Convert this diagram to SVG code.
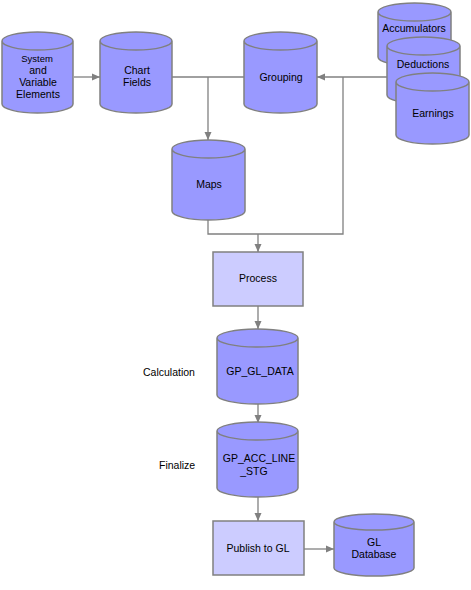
<svg xmlns="http://www.w3.org/2000/svg" width="471" height="590" viewBox="0 0 471 590">
<defs>
<marker id="ah" viewBox="0 0 8 8" refX="8" refY="4" markerWidth="8" markerHeight="8" markerUnits="userSpaceOnUse" orient="auto">
<path d="M0,0.5 L8,4 L0,7.5 Z" fill="#808080"/>
</marker>
<style>
.cyl{fill:#9999ff;stroke:#808080;stroke-width:1.5}
.box{fill:#ccccff;stroke:#808080;stroke-width:1.5}
.ln{fill:none;stroke:#808080;stroke-width:1.3}
text{font-family:"Liberation Sans",Arial,sans-serif;font-size:10.5px;fill:#000;text-anchor:middle}
.lbl{text-anchor:start}
</style>
</defs>
<rect width="471" height="590" fill="#fff"/>
<g id="connectors">
<line class="ln" x1="74" y1="77" x2="100" y2="77" marker-end="url(#ah)"/>
<line class="ln" x1="172" y1="77" x2="244" y2="77"/>
<line class="ln" x1="208" y1="77" x2="208" y2="140" marker-end="url(#ah)"/>
<line class="ln" x1="387" y1="77" x2="317" y2="77" marker-end="url(#ah)"/>
<polyline class="ln" points="343,77 343,234 208,234 208,220"/>
<line class="ln" x1="258" y1="234" x2="258" y2="252" marker-end="url(#ah)"/>
<line class="ln" x1="258" y1="306" x2="258" y2="329" marker-end="url(#ah)"/>
<line class="ln" x1="258" y1="404" x2="258" y2="423" marker-end="url(#ah)"/>
<line class="ln" x1="258" y1="497" x2="258" y2="521" marker-end="url(#ah)"/>
<line class="ln" x1="304" y1="549" x2="334" y2="549" marker-end="url(#ah)"/>
</g>
<g id="system">
<path class="cyl" d="M2,41 L2,104 A35.5,9 0 0 0 73,104 L73,41 A35.5,9 0 0 0 2,41 A35.5,9 0 0 0 73,41"/>
<text x="37" y="62" style="font-size:9.5px">System</text>
<text x="38" y="74">and</text>
<text x="38" y="86">Variable</text>
<text x="38" y="98">Elements</text>
</g>
<g id="chartfields">
<path class="cyl" d="M100,41 L100,104 A36,9 0 0 0 172,104 L172,41 A36,9 0 0 0 100,41 A36,9 0 0 0 172,41"/>
<text x="137" y="74">Chart</text>
<text x="137" y="86">Fields</text>
</g>
<g id="grouping">
<path class="cyl" d="M244,41 L244,104 A36.5,9 0 0 0 317,104 L317,41 A36.5,9 0 0 0 244,41 A36.5,9 0 0 0 317,41"/>
<text x="281" y="81">Grouping</text>
</g>
<g id="accumulators">
<path class="cyl" d="M378,12 L378,57 A36.5,9 0 0 0 451,57 L451,12 A36.5,9 0 0 0 378,12 A36.5,9 0 0 0 451,12"/>
<text x="414" y="32">Accumulators</text>
</g>
<g id="deductions">
<path class="cyl" d="M387,46 L387,95 A36.5,9 0 0 0 460,95 L460,46 A36.5,9 0 0 0 387,46 A36.5,9 0 0 0 460,46"/>
<text x="423" y="68">Deductions</text>
</g>
<g id="earnings">
<path class="cyl" d="M396,82 L396,135 A36.5,9 0 0 0 469,135 L469,82 A36.5,9 0 0 0 396,82 A36.5,9 0 0 0 469,82"/>
<text x="433" y="117">Earnings</text>
</g>
<g id="maps">
<path class="cyl" d="M172,149 L172,211 A36.5,9 0 0 0 245,211 L245,149 A36.5,9 0 0 0 172,149 A36.5,9 0 0 0 245,149"/>
<text x="209" y="188">Maps</text>
</g>
<g id="process">
<rect class="box" x="213" y="252" width="90" height="54"/>
<text x="258" y="282">Process</text>
</g>
<g id="gpgldata">
<path class="cyl" d="M217,338 L217,395 A40.5,9 0 0 0 298,395 L298,338 A40.5,9 0 0 0 217,338 A40.5,9 0 0 0 298,338"/>
<text x="260" y="375">GP_GL_DATA</text>
</g>
<text class="lbl" x="143" y="376">Calculation</text>
<g id="gpaccline">
<path class="cyl" d="M217,431 L217,488 A40.5,9 0 0 0 298,488 L298,431 A40.5,9 0 0 0 217,431 A40.5,9 0 0 0 298,431"/>
<text x="259" y="462">GP_ACC_LINE</text>
<text x="254" y="475">_STG</text>
</g>
<text class="lbl" x="159" y="469">Finalize</text>
<g id="publish">
<rect class="box" x="213" y="521" width="91" height="54"/>
<text x="258" y="552">Publish to GL</text>
</g>
<g id="gldatabase">
<path class="cyl" d="M334,522 L334,568 A40,8 0 0 0 414,568 L414,522 A40,8 0 0 0 334,522 A40,8 0 0 0 414,522"/>
<text x="374" y="546">GL</text>
<text x="374" y="558">Database</text>
</g>
</svg>
